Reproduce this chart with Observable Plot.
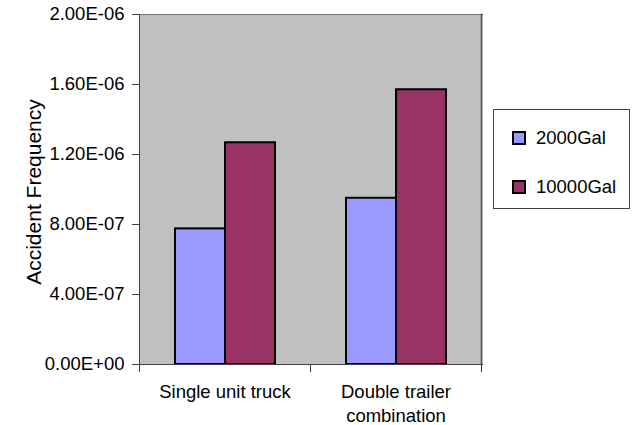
<!DOCTYPE html>
<html>
<head>
<meta charset="utf-8">
<script src="https://cdn.jsdelivr.net/npm/d3@7"></script>
<script src="https://cdn.jsdelivr.net/npm/@observablehq/plot@0.6"></script>
<style>
  html, body { margin: 0; padding: 0; background: #fff; }
  #wrap { position: relative; width: 643px; height: 425px; font-family: "Liberation Sans", Arial, sans-serif; }
  #legend { position: absolute; left: 493px; top: 109px; width: 137px; height: 100px; border: 1px solid #404040; background: #fff; box-sizing: border-box; }
  .item { position: absolute; left: 18px; display: flex; align-items: center; font-size: 18.5px; color: #000; }
  .sw { width: 10px; height: 10px; border: 2px solid #000; margin-right: 10px; }
  #ylabel { position: absolute; left: 34px; top: 192px; transform: translate(-50%, -50%) rotate(-90deg); white-space: nowrap; font-size: 21px; color: #000; }
</style>
</head>
<body>
<div id="wrap"></div>
<script>
const categories = ["Single unit truck", "Double trailer combination"];
const series = ["2000Gal", "10000Gal"];
const values2000 = [7.75e-7, 9.5e-7];
const values10000 = [1.267e-6, 1.57e-6];
const yTicks = [0, 4e-7, 8e-7, 1.2e-6, 1.6e-6, 2e-6];
const colors = ["#9999FF", "#993366"];
const yLabel = "Accident Frequency";

const data = [];
categories.forEach((c, i) => {
  data.push({category: c, series: series[0], value: values2000[i]});
  data.push({category: c, series: series[1], value: values10000[i]});
});

function fmtE(d) {
  const [m, e] = d.toExponential(2).split("e");
  const sign = e[0] === "-" ? "-" : "+";
  const digits = e.replace(/^[+-]/, "").padStart(2, "0");
  return `${m}E${sign}${digits}`;
}

const W = 643, H = 425;
const mL = 138, mR = 162, mT = 14, mB = 61;
const innerH = H - mT - mB;
const axisColor = "#404040";

const plot = Plot.plot({
  width: W,
  height: H,
  marginLeft: mL,
  marginRight: mR,
  marginTop: mT,
  marginBottom: mB,
  style: {fontFamily: "'Liberation Sans', Arial, sans-serif", fontSize: "18px", color: "#000", background: "transparent", overflow: "visible"},
  fx: {domain: categories, padding: 0, label: null, round: true},
  x: {domain: series, paddingInner: 0, paddingOuter: 0.71, axis: null},
  y: {domain: [0, 2e-6], label: null},
  color: {domain: series, range: colors},
  marks: [
    Plot.frame({fill: "#C0C0C0", stroke: null, insetRight: -1}),
    Plot.frame({anchor: "top", stroke: "#707070", insetRight: -1}),
    Plot.frame({anchor: "right", facetAnchor: "right", stroke: "#505050", strokeWidth: 1.5}),
    Plot.barY(data, {fx: "category", x: "series", y: "value", fill: "series", stroke: "#000", strokeWidth: 2}),
    Plot.frame({anchor: "bottom", stroke: axisColor, insetRight: -1}),
    Plot.frame({anchor: "left", facetAnchor: "left", stroke: axisColor}),
    Plot.frame({anchor: "left", stroke: axisColor, insetTop: innerH, insetBottom: -7}),
    Plot.frame({anchor: "right", facetAnchor: "right", stroke: axisColor, insetTop: innerH, insetBottom: -7}),
    Plot.axisY({ticks: yTicks, tickFormat: fmtE, tickSize: 7, tickPadding: 8, fontSize: 18.5, stroke: axisColor, fill: "#000", label: null}),
    Plot.axisFx({anchor: "bottom", tickSize: 0, tickPadding: 16, lineWidth: 8, lineHeight: 1.3, fontSize: 18.5, fill: "#000", label: null})
  ]
});

const wrap = document.getElementById("wrap");
wrap.appendChild(plot);

const yl = document.createElement("div");
yl.id = "ylabel";
yl.textContent = yLabel;
wrap.appendChild(yl);

const legend = document.createElement("div");
legend.id = "legend";
const tops = [17, 66];
series.forEach((s, i) => {
  const it = document.createElement("div");
  it.className = "item";
  it.style.top = tops[i] + "px";
  const sw = document.createElement("span");
  sw.className = "sw";
  sw.style.background = colors[i];
  const t = document.createElement("span");
  t.textContent = s;
  it.appendChild(sw);
  it.appendChild(t);
  legend.appendChild(it);
});
wrap.appendChild(legend);
</script>
</body>
</html>
